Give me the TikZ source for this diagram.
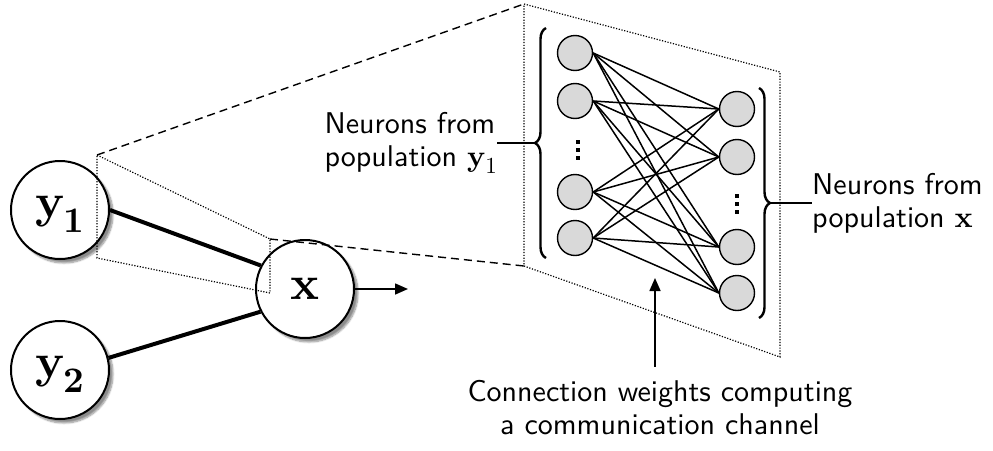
\documentclass[tikz,border=0pt]{standalone}
\usepackage{fontspec}
\usetikzlibrary{arrows.meta,shadows.blur,decorations.pathreplacing,calc}
\newfontfamily\notefont{lmsans10-regular.otf}
\newfontfamily\symbf{lmroman10-bold.otf}
\newfontfamily\symrm{lmroman10-regular.otf}
% bold population name with a large index, as set inside the units
\newcommand{\unitname}[2]{\rule{0pt}{29pt}#1\kern-1pt\raisebox{-15pt}{\fontsize{36}{36}\selectfont #2}}

\begin{document}
\begin{tikzpicture}[x=1pt,y=-1pt,
  unit/.style={circle,draw,line width=2pt,fill=white,minimum size=98pt,inner sep=0pt,
    font=\fontsize{48}{50}\selectfont\symbf,
    blur shadow={shadow xshift=4pt,shadow yshift=-4pt,shadow blur steps=8,shadow opacity=45}},
  neuron/.style={circle,draw,line width=1.4pt,fill=black!15,minimum size=35pt,inner sep=0pt},
  tie/.style={line width=4pt},
  syn/.style={line width=1.5pt},
  dotline/.style={line width=1.2pt,dash pattern=on 1.2pt off 1.6pt},
  dashline/.style={line width=1.4pt,dash pattern=on 8pt off 5pt},
  note/.style={font=\notefont\fontsize{30}{33}\selectfont,inner sep=0pt},
  brc/.style={decorate,decoration={brace,amplitude=11pt},line width=2.4pt},
  tip/.style={-{Triangle[length=13pt,width=11pt]},line width=1.6pt}
]
\useasboundingbox (0,0) rectangle (993,450);

% population units
\node[unit] (y1) at (60,210) {\unitname{y}{1}};
\node[unit] (y2) at (60,370) {\unitname{y}{2}};
\node[unit] (x)  at (305,289) {x};

\draw[tie] (y1.east) -- (x.152);
\draw[tie] (y2.14) -- (x.207);

\coordinate (xout) at (408,289);
\draw[tip] (x.east) -- (xout);

% zoom frustum around the connection y1 -> x
\coordinate (A) at (97,155);
\coordinate (B) at (97,258);
\coordinate (C) at (270,293);
\coordinate (D) at (270,239);
\draw[dotline] (A) -- (D) -- (C) -- (B) -- cycle;

% enlarged panel
\coordinate (P1) at (524,4);
\coordinate (P2) at (780,72);
\coordinate (P3) at (780,357);
\coordinate (P4) at (524,266);
\draw[dotline] (P1) -- (P2) -- (P3) -- (P4) -- cycle;
\draw[dashline] (A) -- (P1);
\draw[dashline] (D) -- (P4);

% neurons of the two populations
\node[neuron] (l1) at (575,53)  {};
\node[neuron] (l2) at (575,101) {};
\node[neuron] (l3) at (575,192) {};
\node[neuron] (l4) at (575,238) {};
\node[neuron] (r1) at (737,109) {};
\node[neuron] (r2) at (737,157) {};
\node[neuron] (r3) at (737,247) {};
\node[neuron] (r4) at (737,293) {};

\foreach \i in {1,...,4}
  \foreach \j in {1,...,4}
    \draw[syn] (l\i.east) -- (r\j.west);

% vertical ellipses
\foreach \yy in {142,150,158}
  \fill (576,\yy-2) rectangle ++(4,4);
\foreach \yy in {196,204,212}
  \fill (735,\yy-2) rectangle ++(4,4);

% braces
\draw[brc] (546,258) -- (546,28);
\coordinate (bl) at (535,143);
\draw[brc] (759,88) -- (759,318);
\coordinate (br) at (770,203);

% labels
\node[note,align=left,anchor=east] (labL) at (497,143)
  {Neurons from\\population {\symbf y}\raisebox{-7pt}{\fontsize{23}{23}\selectfont\symrm 1}};
\node[note,align=left,anchor=west] (labR) at (812,203)
  {Neurons from\\population {\symbf x}};
\node[note,align=center] (labC) at (660,408) {Connection weights computing\\a communication channel};

\draw[line width=2.4pt] (labL.east) -- (bl);
\draw[line width=2.4pt] (br) -- (labR.west);

\coordinate (cwtip) at (655,278);
\draw[tip,shorten <=14pt] (labC.north -| cwtip) -- (cwtip);
\end{tikzpicture}
\end{document}
